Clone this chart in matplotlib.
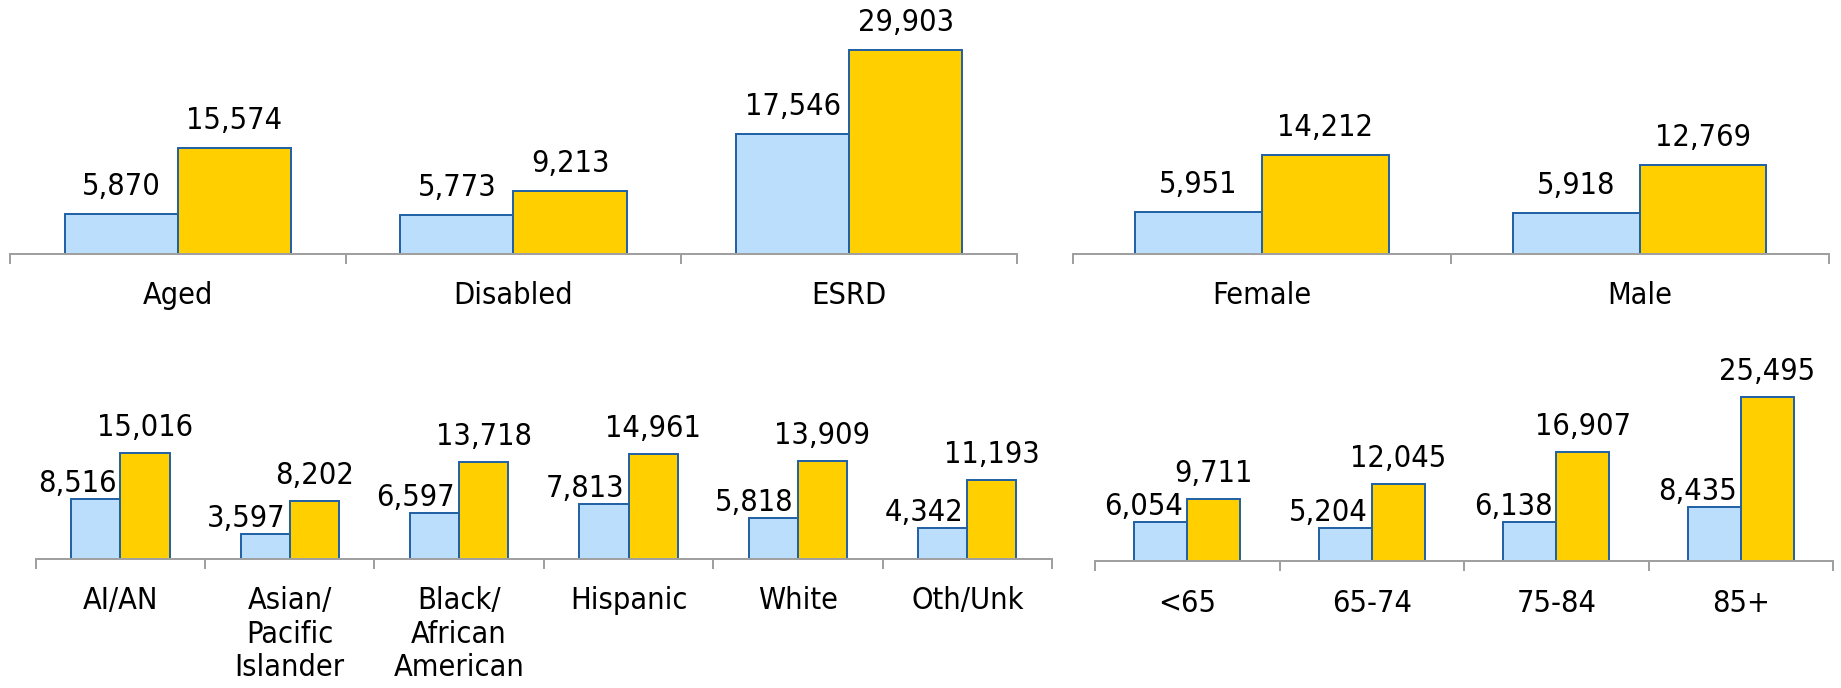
import matplotlib
matplotlib.use("Agg")
import matplotlib.pyplot as plt
import numpy as np

# values
elig_cats = ["Aged", "Disabled", "ESRD"]
elig_blue = [5870, 5773, 17546]
elig_yellow = [15574, 9213, 29903]

sex_cats = ["Female", "Male"]
sex_blue = [5951, 5918]
sex_yellow = [14212, 12769]

race_cats = ["AI/AN", "Asian/\nPacific\nIslander", "Black/\nAfrican\nAmerican",
             "Hispanic", "White", "Oth/Unk"]
race_blue = [8516, 3597, 6597, 7813, 5818, 4342]
race_yellow = [15016, 8202, 13718, 14961, 13909, 11193]

age_cats = ["<65", "65-74", "75-84", "85+"]
age_blue = [6054, 5204, 6138, 8435]
age_yellow = [9711, 12045, 16907, 25495]

BLUE = "#BBDEFC"
YELLOW = "#FFCF00"
EDGE = "#1F5FA5"
GRAY = "#A0A0A0"
PX = 72 / 100  # points per pixel at dpi 100

plt.rcParams["font.family"] = "DejaVu Sans"
plt.rcParams["font.stretch"] = "condensed"
plt.rcParams["font.size"] = 22


def draw_panel(ax, cats, blue, yellow, width, ymax, split_labels):
    """Two bars per category with value labels and boundary ticks"""
    x = np.arange(len(cats))
    bb = ax.bar(x - width / 2, blue, width, color=BLUE, edgecolor=EDGE,
                linewidth=1.4, clip_on=False)
    yb = ax.bar(x + width / 2, yellow, width, color=YELLOW, edgecolor=EDGE,
                linewidth=1.4, clip_on=False)

    for rect, v in zip(bb, blue):
        if split_labels:
            ax.annotate(f"{v:,}", (rect.get_x() + rect.get_width(), v),
                        xytext=(-4 * PX, 7 * PX), textcoords="offset points",
                        ha="right", va="baseline")
        else:
            ax.annotate(f"{v:,}", (rect.get_x() + rect.get_width() / 2, v),
                        xytext=(0, 19 * PX), textcoords="offset points",
                        ha="center", va="baseline")
    for rect, v in zip(yb, yellow):
        gap = 17 if split_labels else 19
        ax.annotate(f"{v:,}", (rect.get_x() + rect.get_width() / 2, v),
                    xytext=(0, gap * PX), textcoords="offset points",
                    ha="center", va="baseline")

    ax.set_xlim(-0.5, len(cats) - 0.5)
    ax.set_ylim(0, ymax)
    ax.set_xticks(x)
    ax.set_xticklabels(cats)
    ax.set_xticks(np.arange(len(cats) + 1) - 0.5, minor=True)
    ax.tick_params(axis="x", which="major", length=0, pad=19.5)
    ax.tick_params(axis="x", which="minor", length=10 * PX, width=2 * PX,
                   color=GRAY, direction="out")
    ax.set_yticks([])
    for side in ["top", "left", "right"]:
        ax.spines[side].set_visible(False)
    ax.spines["bottom"].set_color(GRAY)
    ax.spines["bottom"].set_linewidth(2 * PX)
    ax.patch.set_visible(False)


fig = plt.figure(figsize=(18.41, 6.88), dpi=100)

ax1 = fig.add_axes([0.0054, 0.6308, 0.547, 0.3692])
draw_panel(ax1, elig_cats, elig_blue, elig_yellow, 0.337, 37250, False)

ax2 = fig.add_axes([0.5828, 0.6315, 0.4106, 0.3685])
draw_panel(ax2, sex_cats, sex_blue, sex_yellow, 0.335, 36700, False)

ax3 = fig.add_axes([0.0194, 0.1875, 0.552, 0.3328])
draw_panel(ax3, race_cats, race_blue, race_yellow, 0.29, 32500, True)

ax4 = fig.add_axes([0.5948, 0.1839, 0.4009, 0.3365])
draw_panel(ax4, age_cats, age_blue, age_yellow, 0.287, 35800, True)

fig.savefig("out.png", dpi=100)
plt.close(fig)
